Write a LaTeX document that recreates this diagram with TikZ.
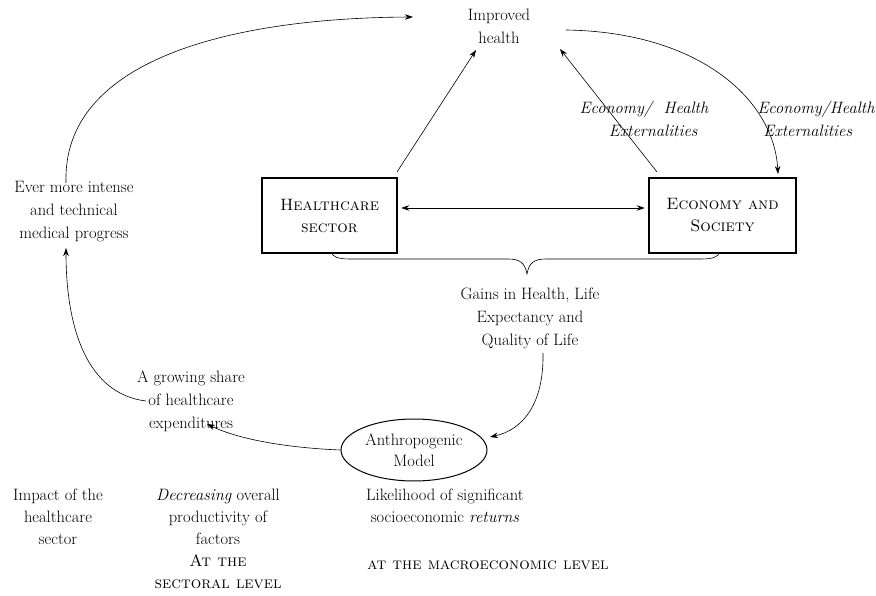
\documentclass[tikz,border=0pt]{standalone}
\usetikzlibrary{arrows.meta,shapes.geometric}
\begin{document}
\begin{tikzpicture}[x=1pt,y=-1pt,
  txt/.style={align=center,inner sep=0pt,font=\fontsize{16.5}{23}\selectfont},
  low/.style={txt,anchor=north,font=\fontsize{16.5}{22}\selectfont},
  sbox/.style={draw,line width=2.6pt,align=center,inner sep=0pt,font=\fontsize{16.5}{22}\selectfont},
  arr/.style={-{Stealth[length=8pt,width=5.5pt]},line width=0.6pt},
  dbl/.style={{Stealth[length=8pt,width=5.5pt]}-{Stealth[length=8pt,width=5.5pt]},line width=0.6pt}]
\useasboundingbox (0,0) rectangle (876,596);

% top goal
\node[txt] (health) at (499,26) {Improved\\health};

% the two sectors
\node[sbox,minimum width=135pt,minimum height=75pt] (hs) at (329.5,215.5)
  {\textsc{Healthcare}\\\textsc{sector}};
\node[sbox,minimum width=147pt,minimum height=75pt] (es) at (722.5,215.5)
  {\textsc{Economy and}\\\textsc{Society}};
\draw[dbl] ([xshift=3pt]hs.east |- 0,208) coordinate (hsr) -- ([xshift=-3pt]es.west |- 0,208) coordinate (esl);

% arrows towards improved health
\coordinate (hsTop) at (397,172);
\coordinate (hTipL) at (476,50);
\draw[arr] (hsTop) -- (hTipL);
\coordinate (esTop) at (657,172);
\coordinate (hTipR) at (560,49);
\draw[arr] (esTop) -- (hTipR);
\node[txt,font=\fontsize{16.5}{23}\selectfont\itshape] (ext1) at (644,119) {Economy/\ \ Health\\\phantom{Ec}Externalities};

% health feeds back to economy
\coordinate (hOut) at (566,30);
\coordinate (esIn) at (778,174);
\draw[arr] (hOut) .. controls (700,32) and (774,100) .. (esIn);
\node[txt,font=\fontsize{16.5}{23}\selectfont\itshape] (ext2) at (816,119) {Economy/Health\\Externalities\phantom{aa}};

% brace collecting both sectors
\coordinate (brL) at (331,252);
\coordinate (brM) at (527,274);
\coordinate (brR) at (720,252);
\draw[line width=0.6pt] (brL) .. controls (333,257) and (338,259) .. (350,259)
  -- (508,259) .. controls (520,259) and (525,263) .. (brM)
  .. controls (529,263) and (534,259) .. (546,259)
  -- (701,259) .. controls (713,259) and (718,257) .. (brR);

\node[txt] (gains) at (530,318) {Gains in Health, Life\\Expectancy and\\Quality of Life};

% anthropogenic model
\node[draw,ellipse,line width=1pt,minimum width=146pt,minimum height=62pt,inner sep=0pt,
  align=center,font=\fontsize{16.5}{21.5}\selectfont] (model) at (414,450) {Anthropogenic\\Model};
\coordinate (gOut) at (543,353);
\coordinate (mIn) at (490,437);
\draw[arr] (gOut) .. controls (544,405) and (522,430) .. (mIn);

\node[txt] (share) at (191,401) {A growing share\\of healthcare\\expenditures};
\coordinate (sIn) at (207,424);
\draw[arr] (model.west) .. controls (290,448) and (240,440) .. (sIn);

\node[txt] (ever) at (74,212) {Ever more intense\\and technical\\medical progress};
\coordinate (sOut) at (146,401);
\coordinate (eIn) at (66,248);
\draw[arr] (sOut) .. controls (88,394) and (66,330) .. (eIn);

\coordinate (eOut) at (66,183);
\coordinate (hIn) at (413,17);
\draw[arr] (eOut) .. controls (62,60) and (230,18) .. (hIn);

% bottom annotations
\node[low] (impact) at (58,489) {Impact of the\\healthcare\\sector};
\node[low] (decr) at (218,489) {\textit{Decreasing} overall\\productivity of\\factors\\\textsc{At the}\\\textsc{sectoral level}};
\node[low] (likely) at (445,489) {Likelihood of significant\\socioeconomic \textit{returns}};
\node[txt] (macro) at (488,565) {\textsc{at the macroeconomic level}};
\end{tikzpicture}
\end{document}
